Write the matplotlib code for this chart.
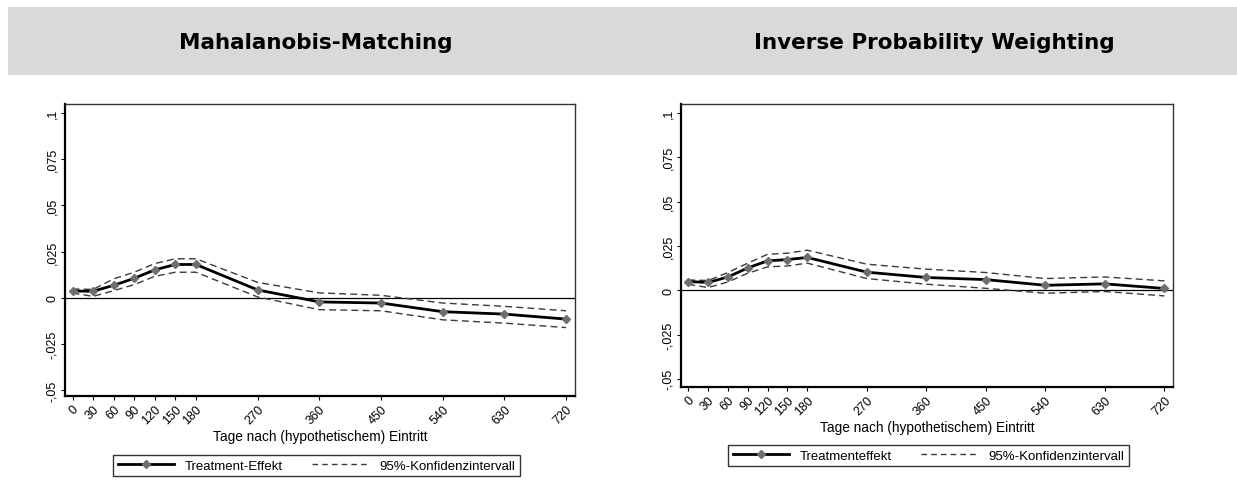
import matplotlib
matplotlib.use("Agg")
import matplotlib.pyplot as plt
from matplotlib.lines import Line2D
from matplotlib.patches import Rectangle

plt.rcParams['font.family'] = ['Liberation Sans', 'DejaVu Sans']

days = [0, 30, 60, 90, 120, 150, 180, 270, 360, 450, 540, 630, 720]
tick_labels = ["0", "30", "60", "90", "120", "150", "180", "270", "360", "450", "540", "630", "720"]
yticks = [-0.05, -0.025, 0, 0.025, 0.05, 0.075, 0.1]
ytick_labels = ["-,05", "-,025", "0", ",025", ",05", ",075", ",1"]

titles = ["Mahalanobis-Matching", "Inverse Probability Weighting"]
effect_names = ["Treatment-Effekt", "Treatmenteffekt"]
ci_name = "95%-Konfidenzintervall"
xlabel = "Tage nach (hypothetischem) Eintritt"

maha_eff = [0.0036, 0.0035, 0.0067, 0.0105, 0.0151, 0.0180, 0.0180, 0.0042, -0.0023, -0.0029, -0.0076, -0.0089, -0.0116]
maha_up = [0.0047, 0.0045, 0.0102, 0.0138, 0.0185, 0.0211, 0.0211, 0.0083, 0.0026, 0.0013, -0.0029, -0.0047, -0.0071]
maha_lo = [0.0025, 0.0007, 0.0038, 0.0071, 0.0116, 0.0138, 0.0138, 0.0004, -0.0065, -0.0071, -0.0120, -0.0138, -0.0162]

ipw_eff = [0.0049, 0.0044, 0.0075, 0.0126, 0.0166, 0.0173, 0.0185, 0.0102, 0.0072, 0.0060, 0.0028, 0.0036, 0.0010]
ipw_up = [0.0058, 0.0055, 0.0100, 0.0153, 0.0203, 0.0209, 0.0226, 0.0147, 0.0119, 0.0100, 0.0066, 0.0075, 0.0053]
ipw_lo = [0.0034, 0.0015, 0.0047, 0.0096, 0.0132, 0.0137, 0.0153, 0.0066, 0.0034, 0.0011, -0.0017, -0.0007, -0.0032]

W, H = 1237, 481
fig = plt.figure(figsize=(W / 100, H / 100), dpi=100)

# header band
fig.patches.append(Rectangle((8 / W, 1 - 76 / H), 1 - 8 / W, 68 / H, transform=fig.transFigure,
                             facecolor="#d9d9d9", edgecolor="none", zorder=0))
for tx, t in zip([316, 934], titles):
    fig.text(tx / W, 1 - 43 / H, t, ha="center", va="center", fontsize=15.5, fontweight="bold",
             family=["DejaVu Sans"])

panels = [
    dict(rect=(65, 105, 575, 397), ylim=(-0.0533, 0.105), data=(maha_eff, maha_up, maha_lo),
         xlab_y=437, leg=(113, 456, 521, 485), name=effect_names[0]),
    dict(rect=(681, 105, 1173, 388), ylim=(-0.0546, 0.1051), data=(ipw_eff, ipw_up, ipw_lo),
         xlab_y=428, leg=(728, 446, 1125, 469), name=effect_names[1]),
]

mcol = "#6e6e6e"
for p in panels:
    x0, y0, x1, y1 = p["rect"]
    ax = fig.add_axes([x0 / W, 1 - y1 / H, (x1 - x0) / W, (y1 - y0) / H])
    eff, up, lo = p["data"]
    ax.axhline(0, color="black", lw=0.9, zorder=1)
    ax.plot(days, up, color="#3a3a3a", lw=1.0, dashes=(5, 3), zorder=2)
    ax.plot(days, lo, color="#3a3a3a", lw=1.0, dashes=(5, 3), zorder=2)
    ax.plot(days, eff, color="black", lw=2.0, marker="D", markersize=4.5,
            markerfacecolor=mcol, markeredgecolor=mcol, zorder=3)
    ax.set_xlim(-11, 733)
    ax.set_ylim(*p["ylim"])
    ax.set_xticks(days)
    ax.set_xticklabels(tick_labels, rotation=45, ha="right", va="top", fontsize=9,
                       rotation_mode="anchor")
    ax.set_yticks(yticks)
    ax.set_yticklabels(ytick_labels, rotation=90, va="center", fontsize=9)
    ax.tick_params(axis="both", direction="out", length=3, width=0.8, pad=2)
    for s in ["left", "bottom"]:
        ax.spines[s].set_linewidth(1.6)
        ax.spines[s].set_color("black")
    for s in ["top", "right"]:
        ax.spines[s].set_linewidth(1.0)
        ax.spines[s].set_color("#333333")
    fig.text(((x0 + x1) / 2) / W, 1 - p["xlab_y"] / H, xlabel, ha="center", va="center", fontsize=9.8)

    lx0, ly0, lx1, ly1 = p["leg"]
    handles = [
        Line2D([], [], color="black", lw=2.0, marker="D", markersize=4,
               markerfacecolor=mcol, markeredgecolor=mcol),
        Line2D([], [], color="#3a3a3a", lw=1.0, dashes=(4, 3)),
    ]
    leg = fig.legend(handles, [p["name"], ci_name], loc="upper left",
                     bbox_to_anchor=(lx0 / W, 1 - ly0 / H), bbox_transform=fig.transFigure,
                     ncol=2, fontsize=9.5, frameon=True, fancybox=False, edgecolor="black",
                     handlelength=4.3, columnspacing=2.2, borderaxespad=0, borderpad=0.35,
                     handletextpad=0.8, numpoints=1)
    leg.get_frame().set_linewidth(1.0)

fig.savefig("out.png", dpi=100)
